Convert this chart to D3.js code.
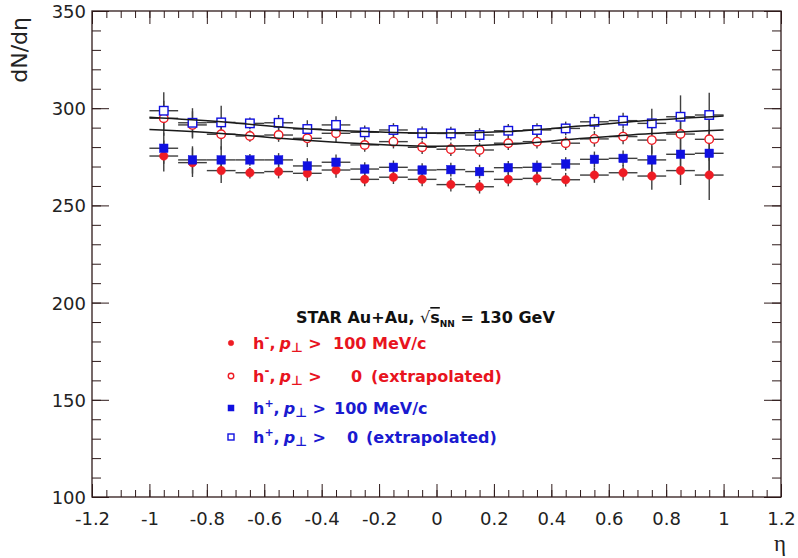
<!DOCTYPE html>
<html>
<head>
<meta charset="utf-8">
<script src="https://cdn.jsdelivr.net/npm/d3@7"></script>
<style>
  html, body { margin: 0; padding: 0; background: #ffffff; }
  svg { display: block; }
  text { white-space: pre; }
</style>
</head>
<body>
<svg id="chart" width="798" height="558"></svg>
<script>
// ---------------- data ----------------
const etaBins = [-0.95, -0.85, -0.75, -0.65, -0.55, -0.45, -0.35, -0.25, -0.15, -0.05,
                  0.05,  0.15,  0.25,  0.35,  0.45,  0.55,  0.65,  0.75,  0.85,  0.95];
const etaHalfWidth = 0.05;

// h-, pT > 100 MeV/c (filled red circles)
const hMinusPt100 = [275.4, 272.0, 267.9, 266.8, 267.4, 266.5, 268.2, 263.4, 264.5, 263.4,
                     260.7, 259.6, 263.4, 263.9, 263.2, 265.6, 266.8, 265.1, 267.9, 265.6];
const hMinusPt100Err = [8.0, 7.4, 6.4, 3.0, 3.5, 4.0, 4.0, 3.5, 3.5, 3.5,
                        3.5, 3.5, 3.5, 3.5, 3.5, 4.0, 4.0, 7.0, 7.4, 12.8];
// h-, pT > 0 extrapolated (open red circles)
const hMinusExtrap = [294.8, 291.4, 286.6, 285.7, 286.2, 284.5, 287.1, 281.1, 282.8, 279.9,
                      278.9, 278.5, 282.0, 282.8, 282.0, 284.2, 285.4, 283.6, 286.7, 284.0];
const hMinusExtrapErr = [9.0, 7.0, 8.0, 3.0, 3.5, 4.5, 4.5, 3.5, 3.5, 3.5,
                         3.5, 3.5, 3.5, 3.5, 3.5, 4.0, 4.0, 7.0, 10.0, 11.0];
// h+, pT > 100 MeV/c (filled blue squares)
const hPlusPt100 = [279.4, 273.4, 273.4, 273.4, 273.4, 270.3, 272.2, 268.7, 269.6, 268.2,
                    268.4, 267.4, 269.4, 269.6, 271.3, 273.7, 274.2, 273.4, 276.3, 276.8];
const hPlusPt100Err = [8.0, 7.0, 7.0, 3.0, 3.5, 4.0, 4.0, 3.5, 3.5, 3.5,
                       3.5, 3.5, 3.5, 3.5, 3.5, 4.0, 4.0, 7.0, 9.0, 11.0];
// h+, pT > 0 extrapolated (open blue squares)
const hPlusExtrap = [298.7, 292.5, 292.7, 292.2, 292.5, 289.3, 291.4, 287.6, 288.8, 287.1,
                     287.0, 286.2, 288.4, 288.8, 289.6, 293.0, 293.6, 292.2, 295.6, 296.5];
const hPlusExtrapErr = [9.5, 7.5, 8.5, 3.0, 4.0, 4.5, 4.5, 3.5, 3.5, 3.5,
                        3.5, 3.5, 3.5, 3.5, 3.5, 4.0, 4.0, 7.5, 11.0, 11.5];

// smooth fit curves
const fitEta      = [-1.0, -0.75, -0.5, -0.25, 0.0, 0.25, 0.5, 0.75, 1.0];
const fitHPlus    = [295.3, 293.0, 289.8, 288.0, 287.2, 288.0, 290.8, 293.8, 296.0];
const fitHMinus   = [289.0, 287.0, 284.0, 281.7, 280.4, 281.4, 284.4, 287.0, 288.8];

const yMajorTicks = [100, 150, 200, 250, 300, 350];
const xMajorTicks = [-1.2, -1, -0.8, -0.6, -0.4, -0.2, 0, 0.2, 0.4, 0.6, 0.8, 1, 1.2];

const legendTitle = "STAR Au+Au, ";
const legendLabels = ["100 MeV/c", "0", "(extrapolated)"];

// ---------------- layout ----------------
const svg = d3.select("#chart");
const L = 92, R = 781, T = 11, B = 497;
const x = d3.scaleLinear().domain([-1.2, 1.2]).range([L, R]);
const y = d3.scaleLinear().domain([100, 350]).range([B, T]);

const red = "#ee1c24", blue = "#1010e0";
const redText = "#e8141e", blueText = "#1a1ad0";
const axisColor = "#2e1a1a";
const labelFont = "'DejaVu Sans', sans-serif";

const yMinor = d3.range(100, 351, 10);
const xMinor = d3.range(-24, 25).map(k => k * 0.05);

function styleAxis(g) {
  g.select(".domain").remove();
  g.selectAll("line").attr("stroke", axisColor).attr("stroke-width", 1);
  g.selectAll("text").attr("font-family", labelFont).attr("font-size", 18).attr("fill", "#222");
}

// left axis (labels)
svg.append("g").attr("transform", `translate(${L},0)`)
  .call(d3.axisLeft(y).tickValues(yMajorTicks).tickSize(-17).tickPadding(6).tickFormat(d => String(d)))
  .call(styleAxis)
  .call(g => g.selectAll("text").attr("dy", "0.36em"));
svg.append("g").attr("transform", `translate(${L},0)`)
  .call(d3.axisLeft(y).tickValues(yMinor).tickSize(-9).tickFormat(""))
  .call(styleAxis);
// right axis (ticks only)
svg.append("g").attr("transform", `translate(${R},0)`)
  .call(d3.axisRight(y).tickValues(yMajorTicks).tickSize(-17).tickFormat(""))
  .call(styleAxis);
svg.append("g").attr("transform", `translate(${R},0)`)
  .call(d3.axisRight(y).tickValues(yMinor).tickSize(-9).tickFormat(""))
  .call(styleAxis);
// bottom axis (labels, ASCII hyphen as minus sign)
svg.append("g").attr("transform", `translate(0,${B})`)
  .call(d3.axisBottom(x).tickValues(xMajorTicks).tickSize(-13).tickPadding(15).tickFormat(d => String(+d.toFixed(1))))
  .call(styleAxis)
  .call(g => g.selectAll("text").attr("dy", "0.71em"));
svg.append("g").attr("transform", `translate(0,${B})`)
  .call(d3.axisBottom(x).tickValues(xMinor).tickSize(-7).tickFormat(""))
  .call(styleAxis);
// top axis (ticks only)
svg.append("g").attr("transform", `translate(0,${T})`)
  .call(d3.axisTop(x).tickValues(xMajorTicks).tickSize(-13).tickFormat(""))
  .call(styleAxis);
svg.append("g").attr("transform", `translate(0,${T})`)
  .call(d3.axisTop(x).tickValues(xMinor).tickSize(-7).tickFormat(""))
  .call(styleAxis);

// frame
svg.append("rect").attr("x", L).attr("y", T).attr("width", R - L).attr("height", B - T)
  .attr("fill", "none").attr("stroke", axisColor).attr("stroke-width", 1.3);

// axis titles
svg.append("text")
  .attr("transform", `translate(27,17) rotate(-90)`)
  .attr("text-anchor", "end")
  .attr("font-family", labelFont).attr("font-size", 22).attr("fill", "#222")
  .text("dN/dη");
svg.append("text")
  .attr("x", 786).attr("y", 551).attr("text-anchor", "end")
  .attr("font-family", "'Liberation Serif', 'DejaVu Serif', serif").attr("font-size", 23).attr("fill", "#222")
  .text("η");

// ---------------- data marks ----------------
const series = [
  { vals: hMinusPt100,  errs: hMinusPt100Err,  shape: "circle", filled: true,  color: red },
  { vals: hPlusPt100,   errs: hPlusPt100Err,   shape: "square", filled: true,  color: blue },
  { vals: hMinusExtrap, errs: hMinusExtrapErr, shape: "circle", filled: false, color: red },
  { vals: hPlusExtrap,  errs: hPlusExtrapErr,  shape: "square", filled: false, color: blue }
];

const errG = svg.append("g").attr("stroke", "#1e1e1e").attr("stroke-width", 1.4).attr("opacity", 0.85);
series.forEach(s => {
  etaBins.forEach((e, i) => {
    errG.append("line").attr("x1", x(e - etaHalfWidth)).attr("x2", x(e + etaHalfWidth))
      .attr("y1", y(s.vals[i])).attr("y2", y(s.vals[i]));
    errG.append("line").attr("x1", x(e)).attr("x2", x(e))
      .attr("y1", y(s.vals[i] - s.errs[i])).attr("y2", y(s.vals[i] + s.errs[i]));
  });
});

function drawMarker(g, cx, cy, shape, filled, color, size) {
  if (shape === "circle") {
    g.append("circle").attr("cx", cx).attr("cy", cy).attr("r", size / 2)
      .attr("fill", filled ? color : "#fff").attr("stroke", color).attr("stroke-width", filled ? 0.5 : 1.4);
  } else {
    const h = size / 2;
    g.append("rect").attr("x", cx - h).attr("y", cy - h).attr("width", size).attr("height", size)
      .attr("fill", filled ? color : "#fff").attr("stroke", color).attr("stroke-width", filled ? 0.5 : 1.4);
  }
}

const markG = svg.append("g");
series.forEach(s => {
  etaBins.forEach((e, i) => {
    drawMarker(markG, x(e), y(s.vals[i]), s.shape, s.filled, s.color, 8.5);
  });
});

// fit curves
const fitLine = d3.line().x((d, i) => x(fitEta[i])).y(d => y(d)).curve(d3.curveMonotoneX);
svg.append("path").datum(fitHPlus).attr("d", fitLine)
  .attr("fill", "none").attr("stroke", "#1a1a1a").attr("stroke-width", 1.5);
svg.append("path").datum(fitHMinus).attr("d", fitLine)
  .attr("fill", "none").attr("stroke", "#1a1a1a").attr("stroke-width", 1.5);

// ---------------- legend ----------------
const bold = "'DejaVu Sans', sans-serif";
const title = svg.append("text").attr("x", 296).attr("y", 323)
  .attr("font-family", bold).attr("font-weight", "bold").attr("font-size", 16).attr("fill", "#111");
title.append("tspan").text(legendTitle);
title.append("tspan").attr("font-weight", "normal").text("√");
title.append("tspan").attr("text-decoration", "overline").text("s");
title.append("tspan").attr("font-size", 9).attr("dy", 4).text("NN");
title.append("tspan").attr("dy", -4).text(" = 130 GeV");

const entries = [
  { sign: "-", color: redText, mcolor: red, shape: "circle", filled: true,  y: 349, valX: 333, val: legendLabels[0] },
  { sign: "-", color: redText, mcolor: red, shape: "circle", filled: false, y: 382, valX: 351, val: legendLabels[1], extraX: 371, extra: legendLabels[2] },
  { sign: "+", color: blueText, mcolor: blue, shape: "square", filled: true,  y: 414, valX: 334, val: legendLabels[0] },
  { sign: "+", color: blueText, mcolor: blue, shape: "square", filled: false, y: 443, valX: 347, val: legendLabels[1], extraX: 366, extra: legendLabels[2] }
];
const legG = svg.append("g");
entries.forEach(en => {
  drawMarker(legG, 231, en.y - 6, en.shape, en.filled, en.mcolor, en.shape === "circle" ? 5.5 : 6);
  const t = legG.append("text").attr("x", 253).attr("y", en.y)
    .attr("font-family", bold).attr("font-weight", "bold").attr("font-size", 16).attr("fill", en.color);
  t.append("tspan").text("h");
  t.append("tspan").attr("font-size", en.sign === "+" ? 11 : 12).attr("dy", -7).text(en.sign);
  t.append("tspan").attr("dy", 7).text(",");
  t.append("tspan").attr("dx", 4).attr("font-style", "italic").text("p");
  t.append("tspan").attr("font-size", 13).attr("dy", 3).text("⊥");
  t.append("tspan").attr("dy", -3).text(" >");
  t.append("tspan").attr("x", en.valX).text(en.val);
  if (en.extra) t.append("tspan").attr("x", en.extraX).text(en.extra);
});
</script>
</body>
</html>
